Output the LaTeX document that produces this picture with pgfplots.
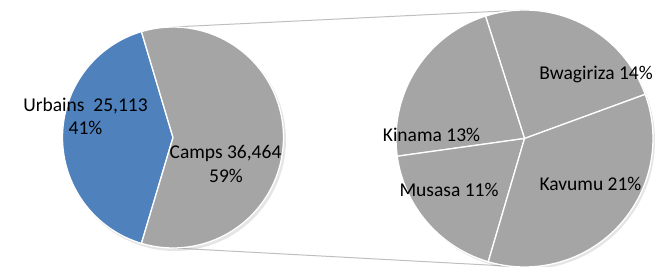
\documentclass[border=0pt]{standalone}
\usepackage{fontspec}
\setmainfont{Carlito}
\usepackage{pgfplots}
\pgfplotsset{compat=1.18}
\definecolor{pieblue}{HTML}{4F81BD}
\definecolor{piegray}{HTML}{A5A5A5}
\definecolor{conn}{HTML}{BFBFBF}
\newcommand{\lbl}{\fontsize{19.5}{23}\selectfont}
\begin{document}
\begin{tikzpicture}
% ---- data ----
\def\vUrb{25113}
\def\vCamps{36464}
\def\vBw{14.4}
\def\vKi{13.2}
\def\vMs{10.8}
\def\vKa{20.8}
% ---- angles derived from the data ----
\edef\ua{\fpeval{360*\vUrb/(\vUrb+\vCamps)}}
\edef\us{\fpeval{180-\ua/2}}
\edef\ue{\fpeval{180+\ua/2}}
\edef\cs{\fpeval{\ue-360}}
\edef\stot{\fpeval{\vBw+\vKi+\vMs+\vKa}}
\edef\aA{20.1}
\edef\aB{\fpeval{\aA+360*\vBw/\stot}}
\edef\aC{\fpeval{\aB+360*\vKi/\stot}}
\edef\aD{\fpeval{\aC+360*\vMs/\stot}}
\edef\aE{\fpeval{\aD+360*\vKa/\stot}}
\begin{axis}[x=1pt,y=1pt,xmin=0,xmax=659,ymin=0,ymax=267,hide axis,clip=false]
% connector lines
\addplot[conn, line width=1pt] coordinates {(173,240) (524.5,257)};
\addplot[conn, line width=1pt] coordinates {(173,19) (524.5,0)};
% shadows
\addplot[fill=black, opacity=0.10, draw=none, domain=0:360, samples=120, variable=\t] ({175+111*cos(\t)},{127+111*sin(\t)}) -- cycle;
\addplot[fill=black, opacity=0.10, draw=none, domain=0:360, samples=120, variable=\t] ({526.5+128.5*cos(\t)},{126+128.5*sin(\t)}) -- cycle;
% left pie
\addplot[draw=white, line width=1.3pt, fill=pieblue, domain=\us:\ue, samples=80, variable=\t] ({173+110.5*cos(\t)},{129.5+110.5*sin(\t)}) -- (axis cs:173,129.5) -- cycle;
\addplot[draw=white, line width=1.3pt, fill=piegray, domain=\cs:\us, samples=100, variable=\t] ({173+110.5*cos(\t)},{129.5+110.5*sin(\t)}) -- (axis cs:173,129.5) -- cycle;
% right pie
\addplot[draw=white, line width=1.3pt, fill=piegray, domain=\aA:\aB, samples=60, variable=\t] ({524.5+128.5*cos(\t)},{128.5+128.5*sin(\t)}) -- (axis cs:524.5,128.5) -- cycle;
\addplot[draw=white, line width=1.3pt, fill=piegray, domain=\aB:\aC, samples=60, variable=\t] ({524.5+128.5*cos(\t)},{128.5+128.5*sin(\t)}) -- (axis cs:524.5,128.5) -- cycle;
\addplot[draw=white, line width=1.3pt, fill=piegray, domain=\aC:\aD, samples=60, variable=\t] ({524.5+128.5*cos(\t)},{128.5+128.5*sin(\t)}) -- (axis cs:524.5,128.5) -- cycle;
\addplot[draw=white, line width=1.3pt, fill=piegray, domain=\aD:\aE, samples=80, variable=\t] ({524.5+128.5*cos(\t)},{128.5+128.5*sin(\t)}) -- (axis cs:524.5,128.5) -- cycle;
% labels
\node[anchor=base, font=\lbl] at (axis cs:85.5,155.3) {Urbains\ \ 25,113};
\node[anchor=base, font=\lbl] at (axis cs:85.5,132) {41\%};
\node[anchor=base, font=\lbl] at (axis cs:225.5,108.7) {Camps 36,464};
\node[anchor=base, font=\lbl] at (axis cs:226,84.3) {59\%};
\node[anchor=base, font=\lbl] at (axis cs:596,187) {Bwagiriza 14\%};
\node[anchor=base, font=\lbl] at (axis cs:431.5,125.3) {Kinama 13\%};
\node[anchor=base, font=\lbl] at (axis cs:449,70.3) {Musasa 11\%};
\node[anchor=base, font=\lbl] at (axis cs:590.5,76.3) {Kavumu 21\%};
\end{axis}
\pgfresetboundingbox
\path (0,0) rectangle (659pt,267pt);
\end{tikzpicture}
\end{document}
